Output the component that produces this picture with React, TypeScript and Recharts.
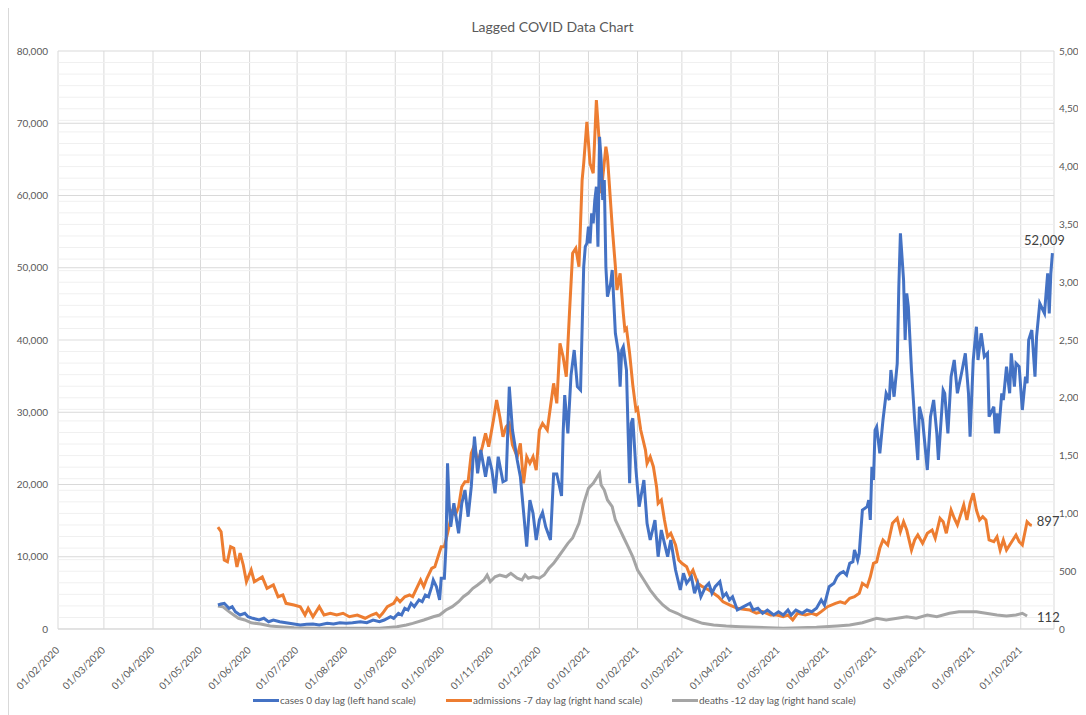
import React from 'react';
import { LineChart, Line, XAxis, YAxis, CartesianGrid, ReferenceLine, LabelList } from 'recharts';

// x values are days counted from 01/02/2020
const monthDays = [0, 29, 60, 90, 121, 151, 182, 213, 243, 274, 304, 335, 366, 394, 425, 455, 486, 516, 547, 578, 608];
const monthLabels = [
  '01/02/2020', '01/03/2020', '01/04/2020', '01/05/2020', '01/06/2020', '01/07/2020', '01/08/2020',
  '01/09/2020', '01/10/2020', '01/11/2020', '01/12/2020', '01/01/2021', '01/02/2021', '01/03/2021',
  '01/04/2021', '01/05/2021', '01/06/2021', '01/07/2021', '01/08/2021', '01/09/2021', '01/10/2021',
];

const leftTicks = [0, 10000, 20000, 30000, 40000, 50000, 60000, 70000, 80000];
const rightTicks = [0, 500, 1000, 1500, 2000, 2500, 3000, 3500, 4000, 4500, 5000];

// [day, cases] - 0 day lag, left hand scale
const cases: [number, number][] = [
  [101, 3322], [103, 3460], [105, 3557], [108, 2865], [110, 3086], [112, 2394], [115, 1938], [118, 2173], [120, 1702], [123, 1481],
  [127, 1246], [130, 1481], [133, 1010], [136, 1246], [140, 1010], [144, 872], [149, 692], [153, 554], [157, 650], [161, 692],
  [165, 554], [170, 789], [174, 692], [178, 872], [182, 789], [186, 872], [191, 1010], [195, 872], [199, 1246], [203, 1010],
  [206, 1246], [210, 1702], [212, 1481], [215, 2173], [217, 1938], [219, 2865], [221, 2630], [223, 3557], [225, 3086], [228, 4014],
  [230, 3778], [232, 4706], [234, 4470], [236, 5854], [237, 6782], [239, 5854], [241, 4014], [242, 7017], [244, 7017], [245, 11390],
  [246, 22933], [247, 17397], [248, 14158], [250, 17397], [252, 14629], [253, 13245], [255, 17397], [257, 19238], [259, 15542], [261, 19694],
  [263, 26614], [265, 21549], [267, 24774], [270, 21078], [272, 23846], [274, 22006], [276, 18781], [278, 23846], [281, 20386], [283, 20622],
  [285, 33534], [287, 27542], [290, 23390], [292, 21078], [296, 11390], [298, 17854], [300, 16013], [302, 12318], [304, 15086], [306, 16124],
  [308, 14158], [311, 12318], [313, 21452], [315, 21452], [318, 18407], [319, 27085], [320, 32386], [322, 27085], [324, 35154], [326, 38614],
  [328, 33534], [330, 33078], [332, 50143], [333, 52911], [334, 53381], [335, 55680], [336, 53381], [337, 57533], [338, 56149], [339, 59374],
  [340, 61215], [341, 52911], [342, 68134], [343, 64910], [344, 59374], [345, 62142], [346, 50143], [347, 45990], [349, 47845], [350, 49686],
  [352, 40925], [354, 38157], [355, 33534], [356, 38614], [357, 39070], [359, 35846], [360, 27542], [361, 20165], [362, 28469], [363, 29161],
  [365, 22006], [367, 16926], [370, 20622], [372, 14629], [374, 12318], [377, 15086], [379, 10006], [381, 13702], [383, 11861], [385, 10006],
  [387, 12318], [390, 8166], [393, 5398], [395, 7709], [397, 6325], [400, 7238], [402, 4941], [404, 6325], [406, 4470], [409, 5854],
  [411, 6325], [413, 4941], [415, 5854], [418, 6546], [420, 4470], [422, 4941], [424, 4014], [426, 4470], [429, 2630], [433, 3086],
  [437, 3557], [439, 2630], [442, 2865], [445, 2173], [448, 2630], [452, 1938], [455, 2394], [458, 1938], [461, 2630], [463, 1938],
  [466, 2630], [470, 2173], [473, 2630], [476, 2394], [479, 2865], [482, 4014], [484, 3322], [487, 5854], [490, 6325], [492, 7238],
  [494, 7709], [496, 7930], [498, 7474], [500, 9093], [502, 9314], [503, 10934], [505, 9550], [506, 10477], [508, 16470], [511, 16926],
  [512, 17854], [513, 15086], [514, 22462], [515, 20622], [516, 27542], [517, 27998], [519, 24317], [521, 28926], [523, 32621], [525, 31694],
  [526, 35846], [528, 32151], [530, 36773], [531, 47375], [532, 54765], [534, 48302], [535, 39998], [536, 46461], [537, 44606], [539, 35846],
  [541, 28926], [543, 23390], [544, 30766], [546, 28926], [549, 22006], [551, 29382], [553, 31694], [555, 27085], [556, 23390], [559, 33078],
  [560, 32621], [562, 27085], [564, 34918], [566, 37230], [568, 32621], [571, 35846], [573, 38157], [575, 32621], [576, 26614], [578, 37230],
  [580, 41838], [581, 37230], [583, 40925], [585, 37686], [587, 38157], [588, 29382], [591, 30766], [592, 27085], [593, 29853], [594, 27085],
  [596, 32621], [597, 31694], [599, 36302], [601, 32621], [602, 38157], [604, 33534], [605, 36773], [607, 36302], [609, 30310], [611, 34918],
  [612, 34005], [613, 39998], [615, 41382], [617, 34918], [618, 40454], [620, 45077], [622, 44150], [623, 43693], [625, 49229], [626, 43693],
  [627, 49229], [628, 52009],
];

// [day, admissions] - 7 day lag, right hand scale
const admissions: [number, number][] = [
  [101, 882], [103, 842], [105, 597], [107, 582], [109, 712], [111, 698], [113, 536], [115, 657], [117, 554], [119, 409],
  [122, 510], [124, 409], [129, 450], [132, 352], [136, 381], [139, 279], [142, 294], [144, 222], [149, 208], [153, 193],
  [156, 121], [158, 179], [161, 106], [165, 193], [168, 121], [172, 136], [176, 121], [180, 136], [184, 106], [189, 121],
  [194, 93], [198, 121], [201, 136], [203, 106], [205, 136], [208, 193], [212, 222], [214, 266], [216, 236], [219, 279],
  [222, 294], [224, 279], [227, 366], [229, 424], [231, 366], [233, 439], [236, 525], [238, 539], [240, 625], [242, 712],
  [244, 712], [246, 828], [249, 1015], [251, 986], [253, 1058], [255, 1231], [257, 1274], [259, 1274], [261, 1520], [263, 1592],
  [265, 1433], [268, 1577], [270, 1693], [272, 1577], [275, 1808], [277, 1981], [279, 1836], [281, 1663], [283, 1750], [285, 1779],
  [287, 1592], [290, 1490], [292, 1606], [294, 1260], [296, 1490], [298, 1433], [300, 1490], [302, 1375], [304, 1721], [306, 1779],
  [309, 1721], [311, 1923], [313, 2125], [315, 1952], [317, 2471], [319, 2355], [321, 2183], [323, 2731], [325, 3250], [327, 3293],
  [329, 3134], [331, 3884], [332, 4028], [334, 4388], [336, 4028], [338, 3942], [340, 4576], [342, 4172], [343, 3769], [346, 4172],
  [347, 4085], [350, 3480], [352, 3134], [353, 2932], [355, 3077], [357, 2731], [358, 2586], [359, 2601], [361, 2385], [363, 2110],
  [365, 1894], [366, 1909], [368, 1721], [371, 1548], [372, 1433], [374, 1490], [376, 1404], [378, 1231], [379, 1087], [381, 1116],
  [383, 943], [385, 798], [387, 828], [390, 727], [392, 597], [394, 568], [397, 539], [399, 467], [401, 510], [404, 395],
  [407, 366], [411, 337], [414, 309], [417, 279], [420, 236], [424, 208], [429, 179], [433, 170], [437, 164], [441, 136],
  [445, 150], [450, 121], [454, 121], [458, 106], [461, 121], [464, 78], [467, 136], [472, 121], [476, 136], [479, 121],
  [482, 150], [486, 193], [491, 222], [494, 236], [497, 222], [500, 266], [503, 279], [506, 309], [508, 395], [511, 366],
  [513, 452], [515, 568], [517, 580], [519, 698], [521, 770], [524, 727], [527, 914], [530, 958], [532, 842], [534, 928],
  [536, 856], [539, 683], [541, 770], [543, 813], [546, 741], [549, 828], [552, 856], [554, 785], [557, 958], [559, 928],
  [561, 828], [564, 1029], [566, 958], [568, 900], [572, 1073], [574, 943], [576, 1087], [578, 1174], [580, 1029], [582, 943],
  [584, 971], [586, 943], [588, 770], [591, 755], [593, 798], [595, 683], [597, 770], [599, 683], [601, 727], [603, 770],
  [605, 813], [607, 755], [609, 727], [612, 928], [614, 900], [615, 897],
];

// [day, deaths] - 12 day lag, right hand scale
const deaths: [number, number][] = [
  [101, 199], [104, 193], [108, 150], [111, 121], [114, 93], [118, 78], [122, 54], [128, 43], [134, 26], [140, 20],
  [149, 11], [161, 6], [182, 6], [203, 6], [214, 20], [220, 35], [224, 49], [231, 78], [237, 106], [241, 121],
  [245, 164], [249, 193], [253, 236], [256, 279], [259, 309], [262, 352], [265, 381], [269, 424], [271, 467], [273, 409],
  [276, 452], [279, 467], [283, 452], [286, 482], [290, 439], [293, 424], [295, 467], [297, 439], [300, 452], [304, 439],
  [307, 467], [310, 525], [313, 568], [316, 625], [319, 683], [322, 741], [325, 787], [329, 914], [332, 1087], [335, 1217],
  [338, 1260], [340, 1304], [342, 1347], [343, 1246], [345, 1202], [347, 1116], [350, 1058], [352, 943], [354, 885], [357, 798],
  [360, 712], [363, 625], [366, 510], [370, 424], [374, 337], [378, 266], [382, 208], [386, 164], [391, 136], [395, 106],
  [401, 78], [407, 49], [414, 35], [422, 26], [431, 20], [458, 6], [479, 15], [492, 26], [500, 35], [508, 54],
  [517, 93], [523, 78], [530, 93], [536, 106], [542, 93], [549, 121], [555, 106], [563, 136], [569, 150], [574, 150],
  [580, 150], [586, 136], [593, 121], [599, 112], [605, 121], [609, 136], [612, 112],
];

const byDay = new Map<number, any>();
const put = (points: [number, number][], key: string) =>
  points.forEach(([d, v]) => {
    const row = byDay.get(d) ?? { day: d };
    row[key] = v;
    byDay.set(d, row);
  });
put(cases, 'cases');
put(admissions, 'admissions');
put(deaths, 'deaths');
const rows = [...byDay.values()].sort((a, b) => a.day - b.day);
const lastIndex = (key: string) => {
  for (let i = rows.length - 1; i >= 0; i--) if (rows[i][key] != null) return i;
  return -1;
};

const minorLines = Array.from({ length: 49 }, (_, i) => (i + 1) * 100);

const FONT = 'Lato, "Open Sans", sans-serif';
const TEXT = '#595959';
const fmt = (v: number) => v.toLocaleString('en-US');

const DateTick = ({ x, y, payload }: any) => {
  const tx = x + 2;
  const ty = y + 22;
  return (
    <text x={tx} y={ty} transform={`rotate(-45 ${tx} ${ty})`} textAnchor="end" fontSize={10} fill={TEXT} fontFamily={FONT}>
      {monthLabels[monthDays.indexOf(payload.value)]}
    </text>
  );
};

const endLabel = (key: string, dx: number, dy: number, anchor: string) => {
  const idx = lastIndex(key);
  return (p: any) =>
    p.index === idx ? (
      <text x={p.x + dx} y={p.y + dy} textAnchor={anchor} fontSize={13} fill="#404040" fontFamily={FONT}>
        {fmt(Number(p.value))}
      </text>
    ) : null;
};

const legendItems = [
  { name: 'cases 0 day lag (left hand scale)', color: '#4472C4', left: 244 },
  { name: 'admissions -7 day lag (right hand scale)', color: '#ED7D31', left: 437 },
  { name: 'deaths -12 day lag (right hand scale)', color: '#A5A5A5', left: 663 },
];

export default function App() {
  return (
    <div
      style={{
        position: 'relative',
        marginTop: -1,
        width: 1077,
        height: 707,
        borderLeft: '1px solid #d9d9d9',
        borderTop: '1px solid #d9d9d9',
        overflow: 'hidden',
        background: '#fff',
        fontFamily: FONT,
      }}
    >
      <div style={{ position: 'absolute', top: 10, left: 0, width: 1087, textAlign: 'center', fontSize: 14, lineHeight: '18px', color: TEXT }}>
        Lagged COVID Data Chart
      </div>
      <LineChart width={1077} height={707} data={rows} margin={{ top: 43, right: 0, bottom: 0, left: 0 }}>
        {minorLines.map((v) => (
          <ReferenceLine key={v} yAxisId="right" y={v} stroke="#f0f0f0" strokeWidth={1} />
        ))}
        <CartesianGrid stroke="#d9d9d9" />
        <XAxis
          dataKey="day"
          type="number"
          domain={[0, 629]}
          ticks={monthDays}
          interval={0}
          allowDataOverflow
          height={86}
          tickSize={0}
          tickMargin={0}
          tick={<DateTick />}
          axisLine={{ stroke: '#d9d9d9' }}
        />
        <YAxis
          domain={[0, 80000]}
          ticks={leftTicks}
          width={49}
          tickSize={0}
          tickMargin={10}
          axisLine={false}
          tickFormatter={fmt}
          tick={{ fontSize: 10, fill: TEXT, fontFamily: FONT }}
        />
        <YAxis
          yAxisId="right"
          orientation="right"
          domain={[0, 5000]}
          ticks={rightTicks}
          width={32}
          tickSize={0}
          tickMargin={5}
          axisLine={false}
          tickFormatter={fmt}
          tick={{ fontSize: 10, fill: TEXT, fontFamily: FONT, textAnchor: 'start' }}
        />
        <Line dataKey="deaths" yAxisId="right" stroke="#A5A5A5" strokeWidth={3} dot={false} activeDot={false} connectNulls isAnimationActive={false}>
          <LabelList dataKey="deaths" content={endLabel('deaths', 10, 6, 'start')} />
        </Line>
        <Line dataKey="admissions" yAxisId="right" stroke="#ED7D31" strokeWidth={3} dot={false} activeDot={false} connectNulls isAnimationActive={false}>
          <LabelList dataKey="admissions" content={endLabel('admissions', 5, 1, 'start')} />
        </Line>
        <Line dataKey="cases" stroke="#4472C4" strokeWidth={3} dot={false} activeDot={false} connectNulls isAnimationActive={false}>
          <LabelList dataKey="cases" content={endLabel('cases', -8, -8, 'middle')} />
        </Line>
      </LineChart>
      {legendItems.map((item) => (
        <div
          key={item.name}
          style={{ position: 'absolute', top: 685, left: item.left, height: 14, display: 'flex', alignItems: 'center', fontSize: 10, color: TEXT, whiteSpace: 'nowrap' }}
        >
          <span style={{ display: 'inline-block', width: 26, height: 3, background: item.color, marginRight: 1 }} />
          {item.name}
        </div>
      ))}
    </div>
  );
}
